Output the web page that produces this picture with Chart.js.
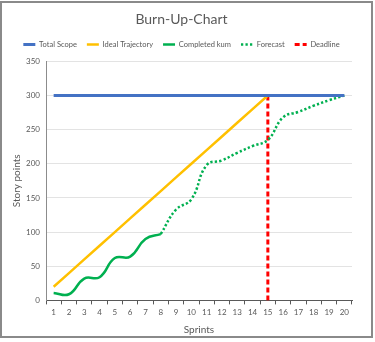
<!DOCTYPE html>
<html>
<head>
<meta charset="utf-8">
<script src="https://cdn.jsdelivr.net/npm/chart.js@4"></script>
<style>
  html, body { margin: 0; padding: 0; background: #fff; }
  #frame {
    position: absolute; left: 0; top: 1px;
    width: 373px; height: 337px;
    border: 2px solid #8a8a8a; box-sizing: border-box;
  }
  #frame canvas { display: block; }
</style>
</head>
<body>
<div id="frame"><canvas id="burnup" width="369" height="333"></canvas></div>
<script>
// --- data ---
const sprints = ['1','2','3','4','5','6','7','8','9','10','11','12','13','14','15','16','17','18','19','20'];
const totalScope = [300,300,300,300,300,300,300,300,300,300,300,300,300,300,300,300,300,300,300,300];
const idealTrajectory = [20,40,60,80,100,120,140,160,180,200,220,240,260,280,300];
const completedKum = [11,9,32,34,62,64,90,97];
const forecast = [null,null,null,null,null,null,null,97,133,148,198,205,216,226,235,268,276,285,293,300];
const deadlineSprint = '15';
const deadlineRange = [0, 300];
const yTicks = { min: 0, max: 350, step: 50 };

const textGrey = '#595959';
const font = 'Lato, "Open Sans", sans-serif';

const ctx = document.getElementById('burnup').getContext('2d');

// legend markers drawn as short lines carrying each dataset's dash pattern
function lineLabels(chart) {
    return chart.data.datasets.map((ds, i) => ({
        text: ds.label,
        fillStyle: ds.borderColor,
        strokeStyle: ds.borderColor,
        lineWidth: ds.borderWidth,
        lineDash: ds.borderDash || [],
        pointStyle: 'line',
        fontColor: textGrey,
        hidden: false,
        datasetIndex: i
    }));
}

// a little extra room between the legend row and the plot
// (Legend.update calls fit() directly, so wrap fit itself)
const legendGap = {
    id: 'legendGap',
    beforeLayout(chart) {
        const lg = chart.legend;
        if (lg && !lg._gapPatched) {
            const fit = lg.fit;
            lg.fit = function () {
                fit.call(this);
                this.height += 3;
            };
            lg._gapPatched = true;
        }
    }
};

new Chart(ctx, {
    type: 'line',
    data: {
        labels: sprints,
        datasets: [
            {
                label: 'Total Scope',
                data: totalScope,
                borderColor: '#4472C4',
                borderWidth: 3,
                pointRadius: 0
            },
            {
                label: 'Ideal Trajectory',
                data: idealTrajectory,
                borderColor: '#FFC000',
                borderWidth: 2.5,
                pointRadius: 0
            },
            {
                label: 'Completed kum',
                data: completedKum,
                borderColor: '#00B050',
                borderWidth: 2.5,
                pointRadius: 0,
                tension: 0.45
            },
            {
                label: 'Forecast',
                data: forecast,
                borderColor: '#00B050',
                borderWidth: 2.5,
                borderDash: [2.3, 2.2],
                pointRadius: 0,
                tension: 0.45
            },
            {
                label: 'Deadline',
                data: deadlineRange.map(v => ({ x: deadlineSprint, y: v })),
                borderColor: '#FF0000',
                borderWidth: 3,
                borderDash: [5, 3],
                pointRadius: 0
            }
        ]
    },
    plugins: [legendGap],
    options: {
        responsive: false,
        animation: false,
        events: [],
        layout: { padding: { left: 9, right: 19, top: 4, bottom: 0 } },
        plugins: {
            title: {
                display: true,
                text: 'Burn-Up-Chart',
                color: textGrey,
                font: { family: font, size: 14, weight: 'normal' },
                padding: { top: 4, bottom: 3 }
            },
            legend: {
                position: 'top',
                labels: {
                    color: textGrey,
                    font: { family: font, size: 7.5 },
                    usePointStyle: true,
                    pointStyleWidth: 12,
                    padding: 10,
                    generateLabels: lineLabels
                }
            },
            tooltip: { enabled: false }
        },
        scales: {
            x: {
                offset: true,
                grid: {
                    display: true,
                    drawOnChartArea: false,
                    drawTicks: true,
                    tickLength: 4,
                    color: '#595959',
                    offset: true
                },
                border: { display: true, color: '#595959', width: 1 },
                ticks: {
                    color: textGrey,
                    font: { family: font, size: 8 },
                    maxRotation: 0,
                    autoSkip: false,
                    padding: 3
                },
                title: {
                    display: true,
                    text: 'Sprints',
                    color: textGrey,
                    font: { family: font, size: 10 },
                    padding: { top: 4, bottom: 0 }
                }
            },
            y: {
                min: yTicks.min,
                max: yTicks.max,
                afterFit(scale) { scale.width = 35; },
                grid: {
                    color: '#e3e3e3',
                    drawTicks: false
                },
                border: { display: true, color: '#8c8c8c', width: 1 },
                ticks: {
                    stepSize: yTicks.step,
                    color: textGrey,
                    font: { family: font, size: 8 },
                    padding: 6
                },
                title: {
                    display: true,
                    text: 'Story points',
                    color: textGrey,
                    font: { family: font, size: 10 },
                    padding: { top: 0, bottom: 0 }
                }
            }
        }
    }
});
</script>
</body>
</html>
